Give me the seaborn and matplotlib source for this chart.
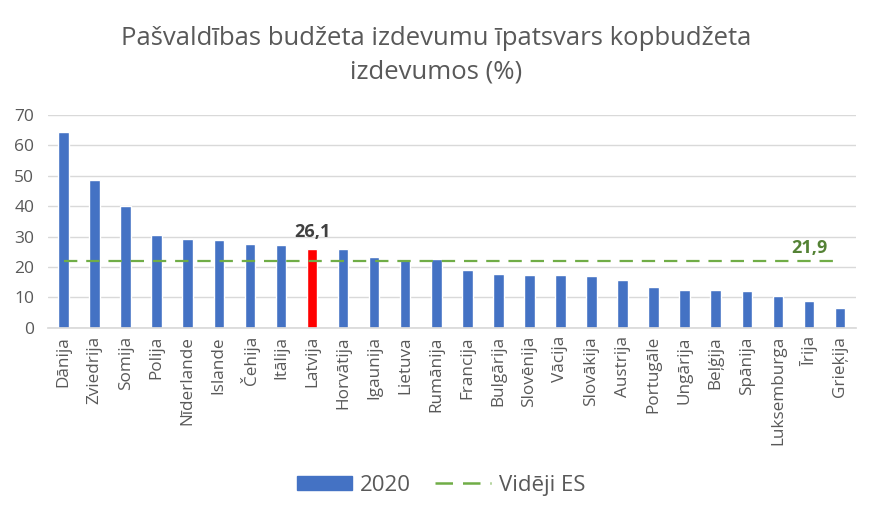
import matplotlib
matplotlib.use("Agg")
import matplotlib.pyplot as plt
import seaborn as sns
import pandas as pd
from matplotlib.patches import Patch
from matplotlib.lines import Line2D

countries = ["Dānija", "Zviedrija", "Somija", "Polija", "Nīderlande", "Islande", "Čehija",
             "Itālija", "Latvija", "Horvātija", "Igaunija", "Lietuva", "Rumānija", "Francija",
             "Bulgārija", "Slovēnija", "Vācija", "Slovākija", "Austrija", "Portugāle",
             "Ungārija", "Beļģija", "Spānija", "Luksemburga", "Īrija", "Grieķija"]
values = [64.4, 48.6, 40.0, 30.5, 29.2, 28.9, 27.5, 27.2, 26.1, 25.9, 23.2, 22.6, 22.5,
          18.9, 17.6, 17.3, 17.3, 17.0, 15.6, 13.3, 12.3, 12.3, 12.0, 10.4, 8.8, 6.5]
eu_average = 21.9
highlight = "Latvija"
series_name = "2020"
avg_name = "Vidēji ES"
title = "Pašvaldības budžeta izdevumu īpatsvars kopbudžeta\nizdevumos (%)"

sns.set_theme(style="white")
plt.rcParams['font.family'] = ['Open Sans', 'DejaVu Sans']

df = pd.DataFrame({"country": countries, "value": values})
blue = "#4472C4"
red = "#FF0000"
green = "#70AD47"
palette = {c: (red if c == highlight else blue) for c in countries}

fig = plt.figure(figsize=(8.73, 5.18), dpi=100)
ax = fig.add_axes([0.055, 0.367, 0.925, 0.411])

sns.barplot(data=df, x="country", y="value", hue="country", palette=palette,
            legend=False, width=0.34, ax=ax, saturation=1)

n = len(countries)
ax.hlines(eu_average, 0, n - 1, colors=green, linestyles=(0, (6, 4)), linewidth=1.6, zorder=3)

ax.set_xlim(-0.5, n - 0.5)
ax.set_ylim(0, 70)
ax.set_yticks(range(0, 71, 10))
ax.yaxis.grid(True, color="#D9D9D9", linewidth=1)
ax.set_axisbelow(True)
for s in ["top", "right", "left"]:
    ax.spines[s].set_visible(False)
ax.spines["bottom"].set_color("#D9D9D9")
ax.set_xlabel("")
ax.set_ylabel("")
ax.tick_params(axis="x", rotation=90, labelsize=12.3, colors="#595959", length=0, pad=6)
ax.tick_params(axis="y", labelsize=12.5, colors="#595959", length=0, pad=10)

li = countries.index(highlight)
ax.text(li, values[li] + 2.6, f"{values[li]:.1f}".replace(".", ","), ha="center", va="bottom",
        fontsize=13, fontweight="bold", color="#404040")
ax.text(n - 2, eu_average + 1.3, f"{eu_average:.1f}".replace(".", ","), ha="center", va="bottom",
        fontsize=13, fontweight="bold", color="#548235")

fig.suptitle(title, y=0.95, fontsize=18.5, color="#595959", linespacing=1.45)

handles = [Patch(facecolor=blue, edgecolor=blue, label=series_name),
           Line2D([0], [0], color=green, linestyle=(0, (7, 4)), linewidth=1.8, label=avg_name)]
fig.legend(handles=handles, loc="center", bbox_to_anchor=(0.505, 0.063), ncol=2, frameon=False,
           fontsize=16, labelcolor="#595959", handlelength=2.5, handleheight=0.6,
           handletextpad=0.35, columnspacing=1.1)

fig.savefig("out.png", dpi=100)
